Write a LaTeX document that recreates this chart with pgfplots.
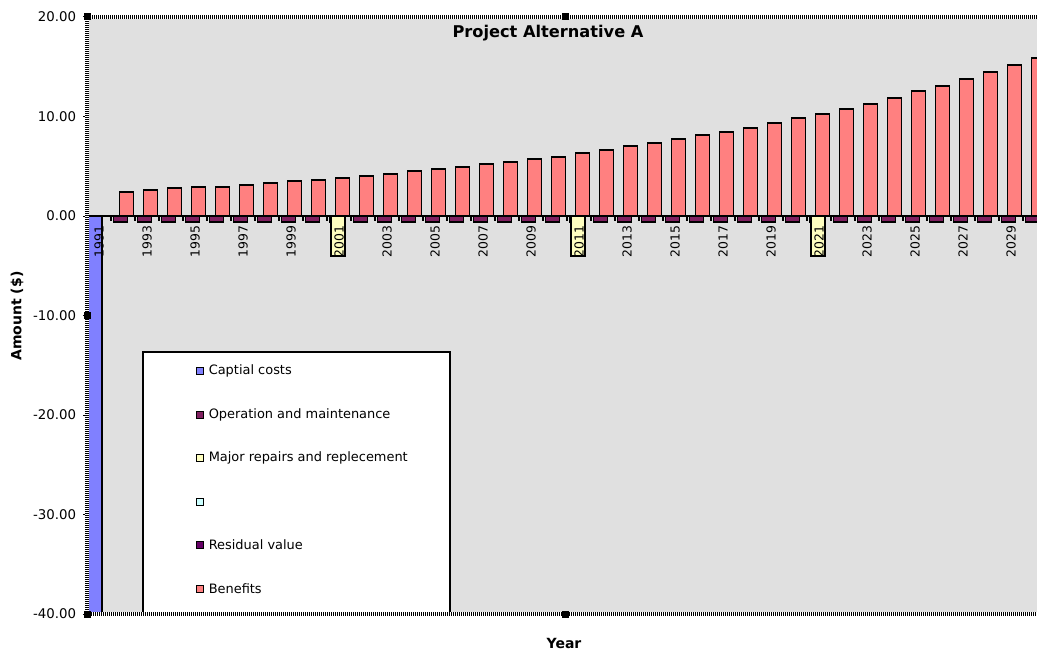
\documentclass[border=0pt]{standalone}
\usepackage{pgfplots}
\usepackage{pgfplotstable}
\pgfplotsset{compat=1.18}
\usepackage{fontspec}
\setmainfont{DejaVu Sans}

\definecolor{plotgray}{RGB}{224,224,224}
\definecolor{capcol}{RGB}{128,128,255}
\definecolor{omcol}{RGB}{128,32,96}
\definecolor{repcol}{RGB}{255,255,192}
\definecolor{cyancol}{RGB}{204,255,255}
\definecolor{rescol}{RGB}{102,0,102}
\definecolor{bencol}{RGB}{255,128,128}

% Yearly cash flows of Project Alternative A
\pgfplotstableread{
year benefits om
1992 2.41 -0.58
1993 2.58 -0.58
1994 2.78 -0.58
1995 2.95 -0.58
1996 2.95 -0.58
1997 3.15 -0.58
1998 3.32 -0.58
1999 3.52 -0.58
2000 3.65 -0.58
2001 3.80 -0.58
2002 4.02 -0.58
2003 4.22 -0.58
2004 4.52 -0.58
2005 4.72 -0.58
2006 4.89 -0.58
2007 5.26 -0.58
2008 5.43 -0.58
2009 5.76 -0.58
2010 5.96 -0.58
2011 6.30 -0.58
2012 6.67 -0.58
2013 7.04 -0.58
2014 7.37 -0.58
2015 7.74 -0.58
2016 8.11 -0.58
2017 8.44 -0.58
2018 8.81 -0.58
2019 9.35 -0.58
2020 9.88 -0.58
2021 10.22 -0.58
2022 10.78 -0.58
2023 11.29 -0.58
2024 11.83 -0.58
2025 12.56 -0.58
2026 13.07 -0.58
2027 13.77 -0.58
2028 14.50 -0.58
2029 15.20 -0.58
2030 15.90 -0.58
}\flows

\begin{document}
\begin{tikzpicture}
\useasboundingbox (0,0) rectangle (777.75pt,-492pt);
\clip (0,0) rectangle (777.75pt,-492pt);
\fill[white] (0,0) rectangle (777.75pt,-492pt);
\begin{axis}[
  at={(65.25pt,-460.5pt)}, anchor=south west,
  scale only axis, width=712.5pt, height=447.75pt,
  xmin=1990.5, xmax=2030.083, ymin=-40, ymax=20,
  enlargelimits=false,
  axis x line=middle, axis y line=left,
  x axis line style={-, black, line width=1.1pt},
  y axis line style={draw=none},
  hide obscured x ticks=false, hide obscured y ticks=false,
  axis background/.style={fill=plotgray},
  axis on top,
  ytick={-40,-30,...,20},
  yticklabels={-40.00,-30.00,-20.00,-10.00,0.00,10.00,20.00},
  xtick={1991,1993,...,2029},
  minor xtick={1990.5,1991.5,...,2030.5},
  /pgf/number format/1000 sep={},
  /pgf/number format/assume math mode=true,
  tick label style={font=\fontsize{10pt}{12pt}\selectfont, inner sep=0pt},
  xticklabel style={rotate=90, anchor=east, font=\fontsize{9.3pt}{11pt}\selectfont},
  xticklabel shift=4pt,
  yticklabel style={anchor=east},
  yticklabel shift=5pt,
  every major x tick/.style={draw=none},
  every minor x tick/.style={black, line width=0.9pt},
  every major y tick/.style={black, line width=0.75pt},
  tick align=outside,
  major tick length=3pt, minor tick length=3.5pt,
  bar width=0.5833,
]
\addplot[ybar, bar shift=-0.1667, fill=capcol, draw=black, line width=1.4pt]
  coordinates {(1991,-40)};
\addplot[ybar, bar shift=-0.1042, fill=omcol, draw=black, line width=1.4pt]
  table[x=year, y=om] {\flows};
\addplot[ybar, bar shift=-0.0417, fill=repcol, draw=black, line width=1.4pt]
  coordinates {(2001,-4.0) (2011,-4.0) (2021,-4.0)};
\addplot[ybar, bar shift=0.1458, fill=bencol, draw=black, line width=1.4pt]
  table[x=year, y=benefits] {\flows};
\end{axis}

\begin{scope}[x=0.75pt, y=-0.75pt]
  % legend
  \draw[black, line width=1.5pt, fill=white] (143,352) rectangle (450,614);
  \foreach \yy/\col/\txt in {371/capcol/Captial costs,
                             415/omcol/Operation and maintenance,
                             458/repcol/Major repairs and replecement,
                             502/cyancol/,
                             545/rescol/Residual value,
                             589/bencol/Benefits} {
    \filldraw[fill=\col, draw=black, line width=1.1pt] (196.5,\yy-3.5) rectangle (203.5,\yy+3.5);
    \node[anchor=west, inner sep=0pt, font=\fontsize{9.7pt}{12pt}\selectfont] at (208.5,\yy) {\txt};
  }
  % plot area border (selected)
  \draw[white, line width=2.4pt] (87,614) -- (87,17) -- (1040,17);
  \draw[white, line width=2.4pt] (87,614) -- (1040,614);
  \draw[black, line width=2.4pt, dash pattern=on 0.75pt off 0.75pt] (87,614) -- (87,17) -- (1040,17);
  \draw[black, line width=2.4pt, dash pattern=on 0.75pt off 0.75pt] (87,614) -- (1040,614);
  % selection handles
  \foreach \hx/\hy in {87/17, 565/17, 87/315, 87/614, 565/614, 1040/315}
    \fill[black] (\hx-3.5,\hy-3.5) rectangle (\hx+3.5,\hy+3.5);
  % titles
  \node[font=\bfseries\fontsize{12.15pt}{14pt}\selectfont] at (548,33) {Project Alternative A};
  \node[font=\bfseries\fontsize{10.5pt}{12pt}\selectfont, rotate=90] at (17,316) {Amount (\$)};
  \node[font=\bfseries\fontsize{10.5pt}{12pt}\selectfont] at (564,643) {Year};
\end{scope}
\end{tikzpicture}
\end{document}
